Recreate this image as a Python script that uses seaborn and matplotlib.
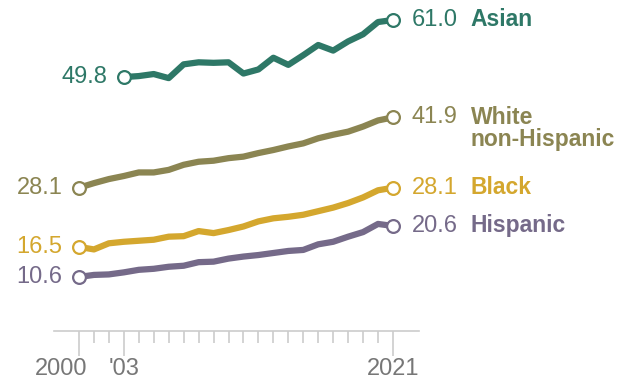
import matplotlib
matplotlib.use("Agg")
import matplotlib.pyplot as plt
import matplotlib.transforms as mtransforms
import pandas as pd
import seaborn as sns

# Share of adults with a bachelor's degree, by race and ethnicity (%)
years_full = list(range(2000, 2022))
years_asian = list(range(2003, 2022))

asian = [49.8, 50.0, 50.4, 49.6, 52.3, 52.7, 52.6, 52.7, 50.5, 51.3,
         53.6, 52.2, 54.1, 56.1, 55.0, 56.8, 58.2, 60.6, 61.0]
white = [28.1, 29.0, 29.8, 30.4, 31.1, 31.1, 31.6, 32.6, 33.2, 33.4, 33.9,
         34.2, 34.9, 35.5, 36.2, 36.8, 37.8, 38.5, 39.1, 40.1, 41.3, 41.9]
black = [16.5, 16.0, 17.2, 17.5, 17.7, 17.9, 18.5, 18.6, 19.6, 19.2, 19.8,
         20.5, 21.5, 22.1, 22.4, 22.8, 23.5, 24.2, 25.1, 26.2, 27.6, 28.1]
hispanic = [10.6, 11.0, 11.1, 11.5, 12.0, 12.2, 12.6, 12.8, 13.5, 13.6, 14.2,
            14.6, 14.9, 15.3, 15.7, 15.9, 17.0, 17.5, 18.5, 19.4, 21.0, 20.6]

groups = ["Asian", "White", "Black", "Hispanic"]
group_labels = [["Asian"], ["White", "non-Hispanic"], ["Black"], ["Hispanic"]]
colors = ["#2e7867", "#8b8552", "#d4a72e", "#756a89"]

tick_years = [2000, 2003, 2021]
tick_labels = ["2000", "'03", "2021"]

series = {
    "Asian": (years_asian, asian),
    "White": (years_full, white),
    "Black": (years_full, black),
    "Hispanic": (years_full, hispanic),
}

df = pd.concat(
    [pd.DataFrame({"year": yrs, "value": vals, "group": g})
     for g, (yrs, vals) in series.items()],
    ignore_index=True,
)

sns.set_theme(style="white")
plt.rcParams["font.family"] = ["Liberation Sans", "DejaVu Sans"]

fig = plt.figure(figsize=(6.18, 3.81), dpi=100)
W, H = 618, 381
ax = fig.add_axes([54 / W, (H - 331) / H, (419 - 54) / W, (331 - 4.7) / H])

palette = dict(zip(groups, colors))
sns.lineplot(data=df, x="year", y="value", hue="group", palette=palette,
             hue_order=groups, linewidth=4.5, legend=False, ax=ax,
             solid_joinstyle="round", solid_capstyle="round")

for g, lines, c in zip(groups, group_labels, colors):
    yrs, vals = series[g]
    ax.scatter([yrs[0], yrs[-1]], [vals[0], vals[-1]], s=9.2 ** 2,
               facecolor="white", edgecolor=c, linewidth=1.6, zorder=5)
    ax.annotate(f"{vals[0]:.1f}", (yrs[0], vals[0]), xytext=(-12, 0),
                textcoords="offset points", ha="right", va="center",
                fontsize=17, color=c, annotation_clip=False)
    ax.annotate(f"{vals[-1]:.1f}", (yrs[-1], vals[-1]), xytext=(13.5, 0),
                textcoords="offset points", ha="left", va="center",
                fontsize=17, color=c, annotation_clip=False)
    # group name, one line at a time, starting level with the end point
    for i, line in enumerate(lines):
        ax.annotate(line, (yrs[-1], vals[-1]), xytext=(56, -16 * i),
                    textcoords="offset points", ha="left", va="center",
                    fontsize=16.5, fontweight="bold", color=c,
                    annotation_clip=False)

ax.set_xlim(1998.33, 2022.74)
ax.set_ylim(0, 64)
ax.set_xlabel("")
ax.set_ylabel("")
ax.set_yticks([])

ax.set_xticks(tick_years)
ax.set_xticklabels(tick_labels)
ax.set_xticks(years_full, minor=True)
ax.tick_params(axis="x", which="major", length=18, width=1.2, color="#cccccc",
               labelsize=17, labelcolor="#777777", pad=1.5, bottom=True)
ax.tick_params(axis="x", which="minor", length=8.5, width=1.2,
               color="#cccccc", bottom=True)

for side in ["left", "right", "top"]:
    ax.spines[side].set_visible(False)
ax.spines["bottom"].set_color("#cccccc")
ax.spines["bottom"].set_linewidth(1.2)

first = ax.get_xticklabels()[0]
first.set_transform(first.get_transform() +
                    mtransforms.ScaledTranslation(-18 / 100, 0,
                                                  fig.dpi_scale_trans))

fig.savefig("out.png", dpi=100, facecolor="white")
